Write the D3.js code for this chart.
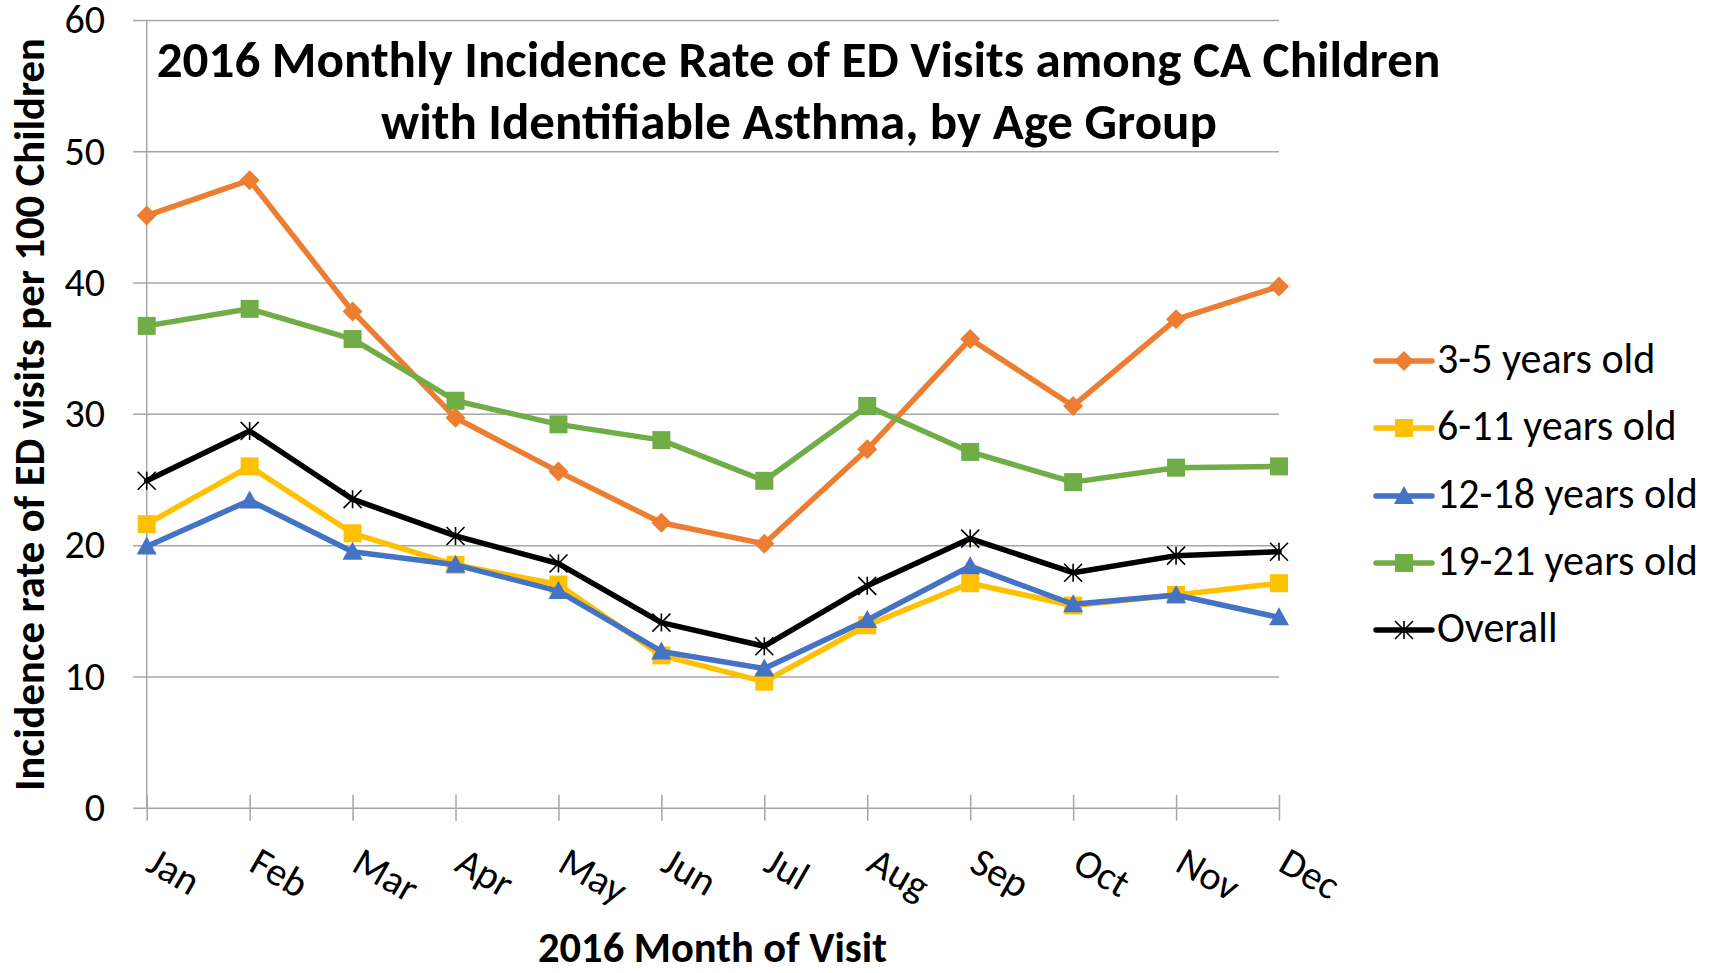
<!DOCTYPE html>
<html>
<head>
<meta charset="utf-8">
<script src="https://cdn.jsdelivr.net/npm/d3@7"></script>
<style>
  html, body { margin: 0; padding: 0; background: #ffffff; }
  svg { display: block; }
  text { font-family: Carlito, Calibri, Lato, "Open Sans", sans-serif; fill: #000; }
</style>
</head>
<body>
<svg id="chart" width="1711" height="973"></svg>
<script>
// ---------------- data ----------------
const months = ["Jan", "Feb", "Mar", "Apr", "May", "Jun", "Jul", "Aug", "Sep", "Oct", "Nov", "Dec"];
const yTicks = [0, 10, 20, 30, 40, 50, 60];

const age3to5   = [45.1, 47.8, 37.8, 29.7, 25.6, 21.7, 20.1, 27.3, 35.7, 30.6, 37.2, 39.7];
const age6to11  = [21.6, 26.0, 20.9, 18.5, 17.0, 11.6,  9.6, 13.9, 17.1, 15.4, 16.2, 17.1];
const age12to18 = [19.9, 23.4, 19.5, 18.5, 16.5, 11.9, 10.6, 14.3, 18.4, 15.5, 16.2, 14.5];
const age19to21 = [36.7, 38.0, 35.7, 31.0, 29.2, 28.0, 24.9, 30.6, 27.1, 24.8, 25.9, 26.0];
const overall   = [24.9, 28.7, 23.5, 20.7, 18.6, 14.1, 12.3, 16.9, 20.5, 17.9, 19.2, 19.5];

const seriesNames = ["3-5 years old", "6-11 years old", "12-18 years old", "19-21 years old", "Overall"];
const seriesValues = [age3to5, age6to11, age12to18, age19to21, overall];
const seriesColors = ["#ED7D31", "#FFC000", "#4472C4", "#70AD47", "#000000"];
const seriesMarkers = ["diamond", "square", "triangle", "square", "star"];

const titleLines = ["2016 Monthly Incidence Rate of ED Visits among CA Children",
                    "with Identifiable Asthma, by Age Group"];
const xTitle = "2016 Month of Visit";
const yTitle = "Incidence rate of ED visits per 100 Children";

// ---------------- layout ----------------
const svg = d3.select("#chart");
const plotLeft = 146.7, plotRight = 1279, plotTop = 20, plotBottom = 807.7;
const gridStart = 133;
const gridColor = "#a6a6a6";
const tickFont = 40;

const x = d3.scalePoint().domain(months).range([plotLeft, plotRight]).padding(0);
const y = d3.scaleLinear().domain([0, 60]).range([plotBottom, plotTop]);

function fitWidth(sel, target) {
  const len = sel.node().getComputedTextLength();
  const fs = parseFloat(sel.attr("font-size"));
  sel.attr("font-size", fs * target / len);
}

// y axis with gridlines
const yAxis = svg.append("g")
  .attr("transform", `translate(${gridStart},0)`)
  .call(d3.axisLeft(y).tickValues(yTicks).tickSizeInner(-(plotRight - gridStart)).tickSizeOuter(0).tickPadding(28));
yAxis.select(".domain").remove();
yAxis.selectAll(".tick line").attr("stroke", gridColor).attr("stroke-width", 1.5);
yAxis.selectAll(".tick text")
  .attr("font-size", tickFont).attr("font-family", "Carlito, Calibri, Lato, sans-serif").attr("fill", "#000");

// vertical axis line
svg.append("line")
  .attr("x1", plotLeft).attr("x2", plotLeft).attr("y1", plotTop).attr("y2", plotBottom)
  .attr("stroke", gridColor).attr("stroke-width", 1.5);

// x axis
const xAxis = svg.append("g")
  .attr("transform", `translate(0,${plotBottom})`)
  .call(d3.axisBottom(x).tickSizeInner(13).tickSizeOuter(0).tickPadding(0));
xAxis.select(".domain").remove();
xAxis.selectAll(".tick line").attr("y1", -13).attr("y2", 13).attr("stroke", gridColor).attr("stroke-width", 1.5);
xAxis.selectAll(".tick text")
  .attr("font-size", tickFont).attr("font-family", "Carlito, Calibri, Lato, sans-serif").attr("fill", "#000")
  .attr("text-anchor", "start")
  .attr("y", 0).attr("dy", 0)
  .attr("transform", "translate(-3,62) rotate(30)");

// marker shapes
function markerPath(type, s) {
  const h = s / 2;
  if (type === "square") return `M${-h},${-h}H${h}V${h}H${-h}Z`;
  if (type === "diamond") return `M0,${-h}L${h},0L0,${h}L${-h},0Z`;
  if (type === "triangle") return `M0,${-h}L${h},${h * 0.8}L${-h},${h * 0.8}Z`;
  return `M${-h},${-h}L${h},${h}M${-h},${h}L${h},${-h}M0,${-h}V${h}`;
}
function drawMarker(g, type, color, cx, cy, s) {
  const p = g.append("path").attr("d", markerPath(type, s)).attr("transform", `translate(${cx},${cy})`);
  if (type === "star") p.attr("fill", "none").attr("stroke", color).attr("stroke-width", 1.6);
  else p.attr("fill", color).attr("stroke", "none");
}
function markerSize(type) { return type === "square" ? 18 : (type === "star" ? 18 : 20); }

// series
const line = d3.line().x((d, i) => x(months[i])).y(d => y(d));
const seriesG = svg.append("g");
seriesValues.forEach((vals, si) => {
  seriesG.append("path")
    .datum(vals)
    .attr("d", line)
    .attr("fill", "none")
    .attr("stroke", seriesColors[si])
    .attr("stroke-width", 5.5)
    .attr("stroke-linejoin", "round")
    .attr("stroke-linecap", "round");
  const g = seriesG.append("g");
  vals.forEach((v, i) => {
    drawMarker(g, seriesMarkers[si], seriesColors[si], x(months[i]), y(v), markerSize(seriesMarkers[si]));
  });
});

// title
const t1 = svg.append("text").attr("x", 798.5).attr("y", 77).attr("text-anchor", "middle")
  .attr("font-weight", "bold").attr("font-size", 44).text(titleLines[0]);
fitWidth(t1, 1284);
const t2 = svg.append("text").attr("x", 799).attr("y", 139).attr("text-anchor", "middle")
  .attr("font-weight", "bold").attr("font-size", 44).text(titleLines[1]);
fitWidth(t2, 836);

// axis titles
const xt = svg.append("text").attr("x", 712.5).attr("y", 962).attr("text-anchor", "middle")
  .attr("font-weight", "bold").attr("font-size", 36).text(xTitle);
fitWidth(xt, 349);
const yt = svg.append("text").attr("transform", "translate(44,414.5) rotate(-90)").attr("text-anchor", "middle")
  .attr("font-weight", "bold").attr("font-size", 36).text(yTitle);
fitWidth(yt, 753);

// legend
const legendY = [361, 428, 496, 563, 630];
const legend = svg.append("g");
const legendTexts = [];
seriesNames.forEach((name, i) => {
  const cy = legendY[i];
  legend.append("line").attr("x1", 1376).attr("x2", 1432).attr("y1", cy).attr("y2", cy)
    .attr("stroke", seriesColors[i]).attr("stroke-width", 5.5).attr("stroke-linecap", "round");
  drawMarker(legend, seriesMarkers[i], seriesColors[i], 1404, cy, markerSize(seriesMarkers[i]));
  legendTexts.push(legend.append("text").attr("x", 1437).attr("y", cy + 12).attr("font-size", 36).text(name));
});
const lenRef = legendTexts[2].node().getComputedTextLength();
const legFs = 36 * 261 / lenRef;
legendTexts.forEach(t => t.attr("font-size", legFs));
</script>
</body>
</html>
